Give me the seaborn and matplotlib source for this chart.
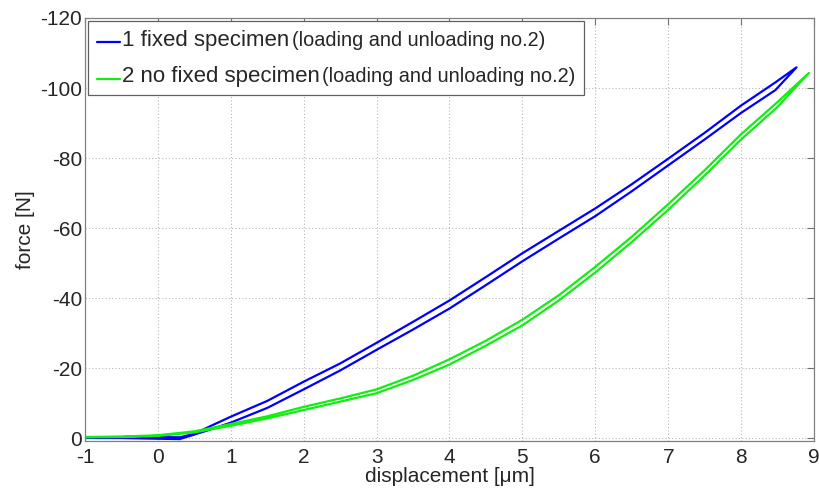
import numpy as np
import pandas as pd
import matplotlib
matplotlib.use("Agg")
import matplotlib.pyplot as plt
import seaborn as sns
from matplotlib.offsetbox import AnchoredOffsetbox, HPacker, VPacker, TextArea, DrawingArea
from matplotlib.lines import Line2D

# Specimen 1 (fixed): loading branch, then unloading branch back to start
fixed_load_x = [-1.0, -0.5, 0.0, 0.3, 0.5, 0.7, 1.0, 1.5, 2.0, 2.5, 3.0, 3.5, 4.0,
                4.5, 5.0, 5.5, 6.0, 6.5, 7.0, 7.5, 8.0, 8.47, 8.76]
fixed_load_f = [-0.1, -0.1, -0.3, -0.2, -1.2, -3.2, -6.1, -10.6, -16.1, -21.3, -27.2,
                -33.2, -39.3, -46.0, -52.8, -59.2, -65.6, -72.5, -79.8, -87.2, -95.0,
                -101.6, -105.9]
fixed_unload_x = [8.76, 8.47, 8.0, 7.5, 7.0, 6.5, 6.0, 5.5, 5.0, 4.5, 4.0, 3.5, 3.0,
                  2.5, 2.0, 1.5, 1.0, 0.7, 0.5, 0.3, 0.0, -0.5, -1.0]
fixed_unload_f = [-105.9, -99.4, -92.9, -85.3, -77.9, -70.5, -63.4, -57.0, -50.5,
                  -43.7, -37.0, -31.0, -25.2, -19.3, -13.9, -8.6, -4.4, -2.3, -1.0,
                  0.3, 0.2, 0.0, 0.0]

# Specimen 2 (not fixed)
free_load_x = [-1.0, -0.5, 0.0, 0.5, 1.0, 1.5, 2.0, 2.5, 3.0, 3.5, 4.0, 4.5, 5.0,
               5.5, 6.0, 6.5, 7.0, 7.5, 8.0, 8.5, 8.93]
free_load_f = [-0.3, -0.4, -0.8, -1.9, -4.0, -6.2, -8.9, -11.3, -13.9, -17.8, -22.5,
               -27.8, -33.8, -40.8, -48.9, -57.5, -66.8, -76.5, -86.8, -96.0, -104.3]
free_unload_x = [8.93, 8.5, 8.0, 7.5, 7.0, 6.5, 6.0, 5.5, 5.0, 4.5, 4.0, 3.5, 3.0,
                 2.5, 2.0, 1.5, 1.0, 0.5, 0.0, -0.5, -1.0]
free_unload_f = [-104.3, -94.6, -85.3, -75.0, -65.2, -56.0, -47.3, -39.3, -32.2,
                 -26.4, -21.0, -16.6, -12.8, -10.4, -8.0, -5.6, -3.5, -1.6, -0.6,
                 -0.3, -0.2]

series_names = ["1 fixed specimen", "2 no fixed specimen"]
series_notes = ["(loading and unloading no.2)", "(loading and unloading no.2)"]
series_colors = ["#0000ff", "#11ee11"]

x_ticks = [-1, 0, 1, 2, 3, 4, 5, 6, 7, 8, 9]
y_ticks = [0, -20, -40, -60, -80, -100, -120]

frames = []
for name, xs, fs in [
    (series_names[0], fixed_load_x + fixed_unload_x, fixed_load_f + fixed_unload_f),
    (series_names[1], free_load_x + free_unload_x, free_load_f + free_unload_f),
]:
    frames.append(pd.DataFrame({"displacement": xs, "force": fs, "specimen": name,
                                "step": np.arange(len(xs))}))
data = pd.concat(frames, ignore_index=True)

sns.set_style("white")
plt.rcParams["font.family"] = ["Liberation Sans", "DejaVu Sans"]

fig = plt.figure(figsize=(8.2, 4.91), dpi=100)
ax = fig.add_axes([85 / 820, (491 - 441) / 491, (814 - 85) / 820, (441 - 18) / 491])

sns.lineplot(data=data, x="displacement", y="force", hue="specimen",
             palette=dict(zip(series_names, series_colors)), sort=False,
             estimator=None, units="specimen", linewidth=1.6, legend=False, ax=ax)

ax.set_xlim(-1, 9)
ax.set_ylim(0.85, -120)
ax.set_xticks(x_ticks)
ax.set_yticks(y_ticks)
ax.set_xticklabels([str(v) for v in x_ticks])
ax.set_yticklabels([str(v) for v in y_ticks])
ax.grid(True, linestyle=(0, (1, 2)), color="#b8b8b8", linewidth=0.8)
ax.tick_params(direction="in", length=5, width=0.8, color="#707070",
               top=True, right=True, labelsize=15)
ax.tick_params(axis="x", pad=5)
ax.tick_params(axis="y", pad=2)
for sp in ax.spines.values():
    sp.set_color("#808080")
    sp.set_linewidth(0.9)

ax.set_xlabel("displacement [\u03bcm]", fontsize=15, labelpad=0)
ax.set_ylabel("force [N]", fontsize=15, labelpad=4)

# Legend with a larger series name and a smaller note
rows = []
for color, name, note in zip(series_colors, series_names, series_notes):
    handle = DrawingArea(17, 10, 0, 0)
    handle.add_artist(Line2D([0, 17], [2.5, 2.5], color=color, linewidth=1.6))
    rows.append(HPacker(children=[handle,
                                  TextArea(name, textprops=dict(size=16)),
                                  TextArea(note, textprops=dict(size=14.3))],
                        align="baseline", pad=0, sep=1.5))
legend_box = VPacker(children=rows, align="left", pad=0, sep=11)
anchored = AnchoredOffsetbox(loc="upper left", child=legend_box, pad=0.6,
                             borderpad=0.25, frameon=True, prop=dict(size=10),
                             bbox_to_anchor=(0, 1), bbox_transform=ax.transAxes)
anchored.patch.set_edgecolor("#606060")
anchored.patch.set_linewidth(0.9)
anchored.patch.set_boxstyle("square", pad=0)
ax.add_artist(anchored)

fig.savefig("out.png", dpi=100)
